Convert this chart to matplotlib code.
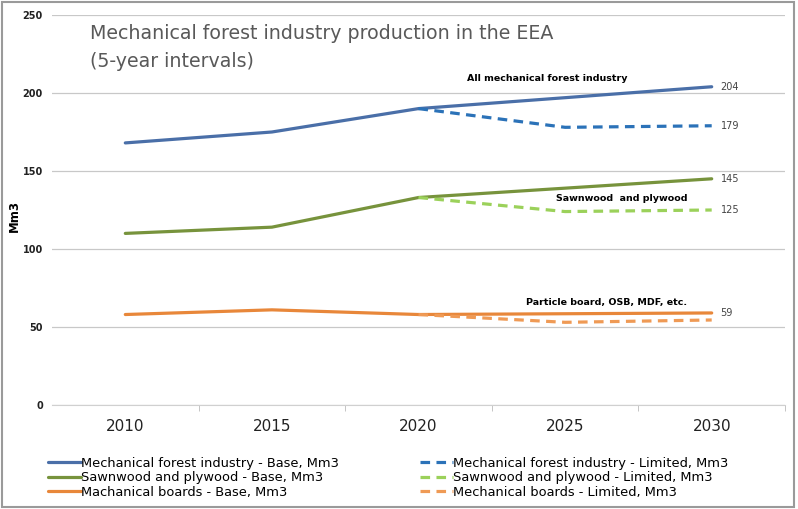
import numpy as np
import matplotlib.pyplot as plt
from matplotlib.patches import Rectangle

years = [2010, 2015, 2020, 2025, 2030]
limited_years = [2020, 2025, 2030]

mech_base = [168, 175, 190, 197, 204]
mech_limited = [190, 178, 179]
sawn_base = [110, 114, 133, 139, 145]
sawn_limited = [133, 124, 125]
boards_base = [58, 61, 58, 58.5, 59]
boards_limited = [58, 53, 54.5]

end_labels = ["204", "179", "145", "125", "59"]
end_values = [204, 179, 145, 125, 59]

fig = plt.figure(figsize=(7.98, 5.09), dpi=100)
ax = fig.add_axes([52 / 798, 1 - 405 / 509, 733 / 798, 390 / 509])

# series
ax.plot(years, mech_base, color="#4a6fa8", lw=2.3, solid_capstyle="round",
        label="Mechanical forest industry - Base, Mm3")
ax.plot(years, sawn_base, color="#77933c", lw=2.3, solid_capstyle="round",
        label="Sawnwood and plywood - Base, Mm3")
ax.plot(years, boards_base, color="#e8873a", lw=2.3, solid_capstyle="round",
        label="Machanical boards - Base, Mm3")
ax.plot(limited_years, mech_limited, color="#2b72b8", lw=2.3, ls=(0, (3, 2)),
        label="Mechanical forest industry - Limited, Mm3")
ax.plot(limited_years, sawn_limited, color="#9bd15a", lw=2.3, ls=(0, (3, 2)),
        label="Sawnwood and plywood - Limited, Mm3")
ax.plot(limited_years, boards_limited, color="#ef9a55", lw=2.3, ls=(0, (3, 2)),
        label="Mechanical boards - Limited, Mm3")

ax.set_xlim(2007.5, 2032.5)
ax.set_ylim(0, 250)
ax.set_yticks([0, 50, 100, 150, 200, 250])
ax.set_xticks(years)
ax.set_xticks([2012.5, 2017.5, 2022.5, 2027.5, 2032.5], minor=True)
ax.tick_params(axis="x", which="major", length=0, labelsize=11, pad=10, colors="#222222")
ax.tick_params(axis="x", which="minor", length=4, color="#bbbbbb", direction="out")
ax.tick_params(axis="y", length=0, labelsize=7, pad=6.5, colors="#222222")
for t in ax.get_yticklabels():
    t.set_fontweight("bold")
ax.grid(axis="y", color="#c8c8c8", lw=0.9)
ax.set_axisbelow(True)
for s in ["left", "right", "top"]:
    ax.spines[s].set_visible(False)
ax.spines["bottom"].set_color("#d0d0d0")
ax.set_ylabel("Mm3", fontsize=8.5, fontweight="bold")
ax.yaxis.set_label_coords(-0.042, 0.485)

ax.text(2008.8, 244, "Mechanical forest industry production in the EEA\n(5-year intervals)",
        fontsize=13.7, color="#595959", va="top", ha="left", linespacing=1.55)

# annotations
ax.text(2024.38, 209, "All mechanical forest industry", fontsize=6.8, fontweight="bold",
        ha="center", va="center")
ax.text(2026.94, 132.5, "Sawnwood  and plywood", fontsize=6.8, fontweight="bold",
        ha="center", va="center")
ax.text(2026.43, 66, "Particle board, OSB, MDF, etc.", fontsize=6.8, fontweight="bold",
        ha="center", va="center")
for lab, v in zip(end_labels, end_values):
    ax.text(2030.3, v, lab, fontsize=7, color="#444444", ha="left", va="center")

handles, labels = ax.get_legend_handles_labels()
fig.legend(handles, labels, ncol=2, loc="upper left", bbox_to_anchor=(48 / 798, 1 - 457 / 509),
           frameon=False, fontsize=9.4, handlelength=2.5, handletextpad=0.05,
           columnspacing=6.2, labelspacing=0.1, borderaxespad=0, borderpad=0)

# outer frame
fig.patches.append(Rectangle((0.002, 0.004), 0.993, 0.992, transform=fig.transFigure,
                             fill=False, edgecolor="#9a9a9a", lw=1.5))

fig.savefig("out.png", dpi=100)
